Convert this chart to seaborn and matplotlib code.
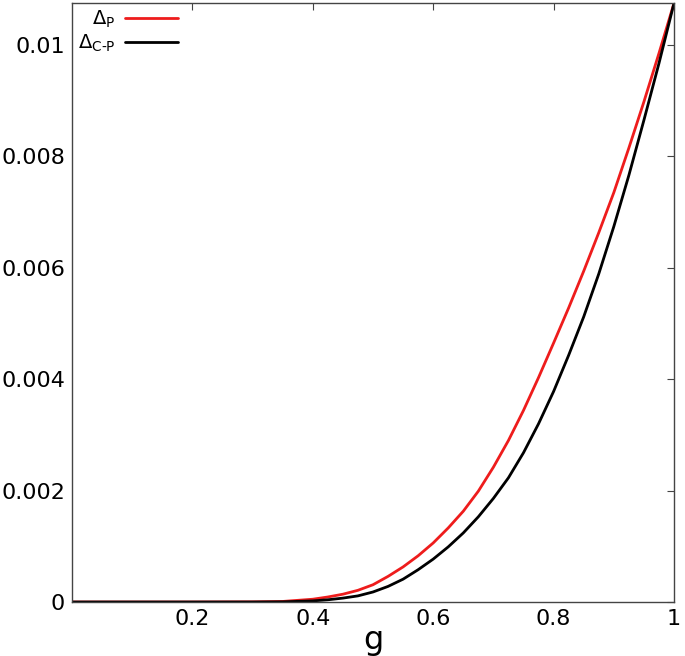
import numpy as np
import pandas as pd
import seaborn as sns
import matplotlib.pyplot as plt
from matplotlib.ticker import FuncFormatter

# values
g = [0.0, 0.1, 0.2, 0.3, 0.35, 0.4, 0.425, 0.45, 0.475, 0.5, 0.525,
     0.55, 0.575, 0.6, 0.625, 0.65, 0.675, 0.7, 0.725, 0.75, 0.775,
     0.8, 0.825, 0.85, 0.875, 0.9, 0.925, 0.95, 0.975, 1.0]
delta_p = [0.0, 0.0, 0.0, 0.000003, 0.00001, 0.00005, 0.00009, 0.00014,
           0.00021, 0.00031, 0.00046, 0.00063, 0.00083, 0.00106, 0.00133,
           0.00163, 0.00199, 0.00242, 0.00290, 0.00344, 0.00403, 0.00465,
           0.00528, 0.00594, 0.00663, 0.00735, 0.00815, 0.00898, 0.00985,
           0.01075]
delta_cp = [0.0, 0.0, 0.0, 0.0, 0.000003, 0.00002, 0.00004, 0.00007,
            0.00011, 0.00018, 0.00028, 0.00041, 0.00058, 0.00077, 0.00099,
            0.00124, 0.00153, 0.00186, 0.00223, 0.00268, 0.00320, 0.00378,
            0.00443, 0.00512, 0.00589, 0.00674, 0.00766, 0.00865, 0.00967,
            0.01075]
labels = [r'$\Delta_{\mathrm{P}}$', r'$\Delta_{\text{C-P}}$']
colors = ['#ee1c1c', 'black']
xticks = [0.2, 0.4, 0.6, 0.8, 1.0]
yticks = [0, 0.002, 0.004, 0.006, 0.008, 0.01]

df = pd.concat([
    pd.DataFrame({'g': g, 'value': delta_p, 'curve': labels[0]}),
    pd.DataFrame({'g': g, 'value': delta_cp, 'curve': labels[1]}),
])

sns.set_style('white')
plt.rcParams['font.family'] = ['DejaVu Sans']
plt.rcParams['mathtext.default'] = 'regular'
plt.rcParams['text.color'] = 'black'
plt.rcParams['axes.labelcolor'] = 'black'

fig = plt.figure(figsize=(6.85, 6.56), dpi=100)
ax = fig.add_axes([0.105, 0.0823, 0.879, 0.913])

sns.lineplot(data=df, x='g', y='value', hue='curve', hue_order=labels,
             palette=colors, linewidth=2, ax=ax, legend=False)

ax.set_xlim(0, 1)
ax.set_ylim(0, max(delta_p))
ax.set_xticks(xticks)
ax.set_yticks(yticks)
fmt = FuncFormatter(lambda v, pos: '%g' % round(v, 6))
ax.xaxis.set_major_formatter(fmt)
ax.yaxis.set_major_formatter(fmt)
ax.tick_params(direction='in', top=True, right=True, length=5, width=0.8,
               labelsize=16, pad=5, color='#444444', labelcolor='black')
for s in ax.spines.values():
    s.set_color('#444444')
    s.set_linewidth(1.0)

ax.set_xlabel('g', fontsize=23, labelpad=-3)
ax.set_ylabel('')

handles = [plt.Line2D([], [], color=c, lw=2) for c in colors]
ax.legend(handles, labels, loc='upper left', frameon=False, fontsize=14,
          markerfirst=False, handlelength=2.7, handletextpad=0.5,
          borderaxespad=0.1, borderpad=0.2, labelspacing=0.12)

fig.savefig('out.png', dpi=100)
